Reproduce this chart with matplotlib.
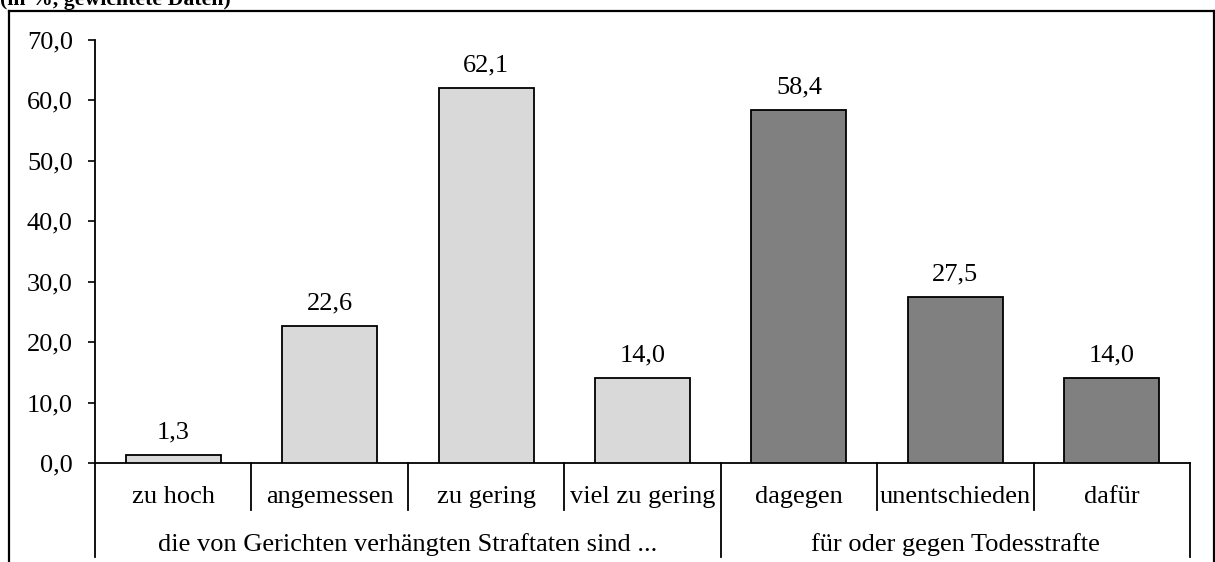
import matplotlib
matplotlib.use("Agg")
import matplotlib.pyplot as plt
from matplotlib.lines import Line2D

categories = ["zu hoch", "angemessen", "zu gering", "viel zu gering", "dagegen", "unentschieden", "dafür"]
values = [1.3, 22.6, 62.1, 14.0, 58.4, 27.5, 14.0]
groups = ["die von Gerichten verhängten Straftaten sind ...", "für oder gegen Todesstrafte"]
group_sizes = [4, 3]
group_colors = ["#D9D9D9", "#808080"]
yticks = [0, 10, 20, 30, 40, 50, 60, 70]
title = "(in %, gewichtete Daten)"

plt.rcParams['font.family'] = ['Liberation Serif', 'DejaVu Serif']
FS = 19
W, H = 1215, 562
fig = plt.figure(figsize=(W / 100, H / 100), dpi=100)

def fx(px):
    return px / W

def fy(py):
    return 1 - py / H

ax = fig.add_axes([fx(95), fy(463), fx(1190) - fx(95), fy(40) - fy(463)])
AXH = 423.0

colors = []
for c, n in zip(group_colors, group_sizes):
    colors += [c] * n
xs = list(range(len(categories)))
ax.bar(xs, values, width=0.607, color=colors, edgecolor="black", linewidth=1.3, zorder=3)
for x, v in zip(xs, values):
    ax.annotate(f"{v:.1f}".replace(".", ","), (x, v), xytext=(0, 12), textcoords="offset points",
                ha="center", va="baseline", fontsize=FS)

ax.set_xlim(-0.5, len(categories) - 0.5)
ax.set_ylim(0, 70)
ax.set_yticks(yticks)
ax.set_yticklabels([f"{t:.1f}".replace(".", ",") for t in yticks], fontsize=FS)
ax.tick_params(axis="y", direction="out", length=5, width=1.2, pad=11)
ax.set_xticks([])
for s in ["top", "right"]:
    ax.spines[s].set_visible(False)
ax.spines["left"].set_linewidth(1.3)
ax.spines["bottom"].set_linewidth(1.3)

# category labels and dividers
trans = ax.get_xaxis_transform()
row1_y = -40 / AXH
row2_y = -88 / AXH
short_end = -47 / AXH
long_end = -94 / AXH
for x, c in zip(xs, categories):
    ax.text(x, row1_y, c, transform=trans, ha="center", va="baseline", fontsize=FS, clip_on=False)
bounds = [0]
for n in group_sizes:
    bounds.append(bounds[-1] + n)
for i in range(len(categories) + 1):
    xb = i - 0.5
    end = long_end if i in bounds else short_end
    ax.add_line(Line2D([xb, xb], [0, end], transform=trans, color="black", lw=1.3, clip_on=False))
for gi, g in enumerate(groups):
    mid = (bounds[gi] + bounds[gi + 1] - 1) / 2
    ax.text(mid, row2_y, g, transform=trans, ha="center", va="baseline", fontsize=FS, clip_on=False)

# outer frame
fig.add_artist(Line2D([fx(9), fx(1214)], [fy(11), fy(11)], color="black", lw=1.6))
fig.add_artist(Line2D([fx(9), fx(9)], [fy(11), fy(570)], color="black", lw=1.6))
fig.add_artist(Line2D([fx(1214), fx(1214)], [fy(11), fy(570)], color="black", lw=1.6))

fig.text(0.0, fy(5), title, ha="left", va="baseline", fontsize=15.7, fontweight="bold")

fig.savefig("out.png", dpi=100)
